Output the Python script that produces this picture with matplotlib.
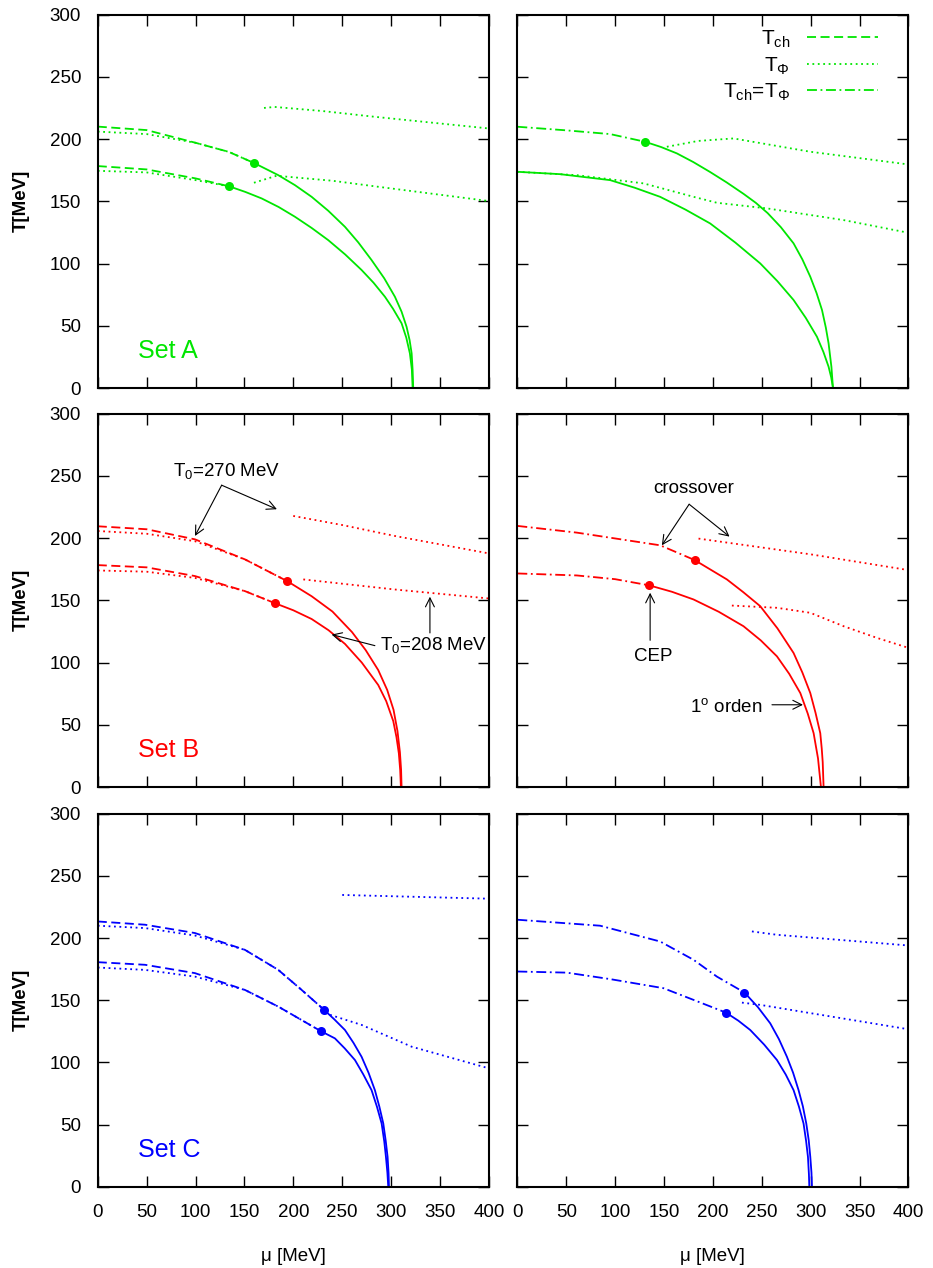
import matplotlib
matplotlib.use("Agg")
import matplotlib.pyplot as plt

plt.rcParams['font.family'] = ['Liberation Sans', 'DejaVu Sans']
plt.rcParams['mathtext.fontset'] = 'custom'
plt.rcParams['mathtext.rm'] = 'Liberation Sans'
plt.rcParams['mathtext.it'] = 'Liberation Sans'
plt.rcParams['mathtext.bf'] = 'Liberation Sans:bold'

GREEN = '#00e600'
RED = '#ff0000'
BLUE = '#0000ff'

# Set A, izquierda
A_L_ch_hi = [(0, 210), (50, 207.2), (100, 197), (134, 189.7), (160, 180.7)]
A_L_phi_hi = [(0, 206), (50, 204), (100, 197), (134, 189.7), (160, 180.7)]
A_L_1st_hi = [(160, 180.7), (184.6, 171), (201.6, 163), (218.7, 153.6), (235.7, 142.4),
              (252.8, 129.5), (266.4, 117), (280, 102.8), (293, 88.1), (303.9, 73.3),
              (310.7, 61.3), (315.8, 49.2), (318.9, 38.5), (321, 27.8), (322, 14.5), (322.6, 0)]
A_L_phi_hi_x = [(170, 225), (181, 225.8), (230, 222.5), (283, 217.9), (400, 208.5)]
A_L_ch_lo = [(0, 178.3), (50, 175.6), (100, 168.4), (134.5, 162)]
A_L_phi_lo = [(0, 174.5), (50, 173.2), (100, 167), (134.5, 162)]
A_L_1st_lo = [(134.5, 162), (151, 157.5), (167.6, 152.3), (185, 145.4), (201.6, 137.6),
              (218.7, 128.6), (235.7, 118.8), (253, 107.3), (269.8, 94.8), (282, 84.6),
              (293.7, 73.3), (302, 63.6), (310.7, 52), (315.5, 40.5), (319.2, 27.8),
              (321.2, 15), (322, 0)]
A_L_phi_lo_x = [(159.7, 164.9), (182.8, 170.5), (240, 166.5), (286.5, 161.7), (400, 150.2)]
A_L_cep = [(160, 180.7), (134.5, 162)]

# Set A, derecha
A_R_eq_hi = [(0, 209.9), (50, 207), (94.9, 204), (130.7, 197.8)]
A_R_1st_hi = [(130.7, 197.8), (147, 193.6), (163.1, 188.5), (180, 181.5), (197.2, 173.5),
              (214, 165.2), (231.3, 156), (244, 148.7), (256, 140.5), (269.5, 129.2),
              (282.5, 116.2), (291.5, 103.3), (299.6, 89.4), (306, 76.3), (311.6, 62.6),
              (315.5, 48.5), (318.3, 35.9), (321.2, 17), (322.8, 0)]
A_R_1st_lo = [(0, 173.7), (43.7, 171.8), (94.9, 167), (120, 160.9), (146, 153.6),
              (172, 143.3), (197.2, 132.2), (223, 116.8), (248.4, 100.1), (266, 85.8),
              (282.5, 70.7), (295, 56.3), (306.4, 41.2), (313, 29), (318.3, 17.1),
              (321, 8.5), (322.8, 0)]
A_R_phi_hi = [(152.9, 193.8), (185, 198.5), (221.1, 200.5), (299.6, 189.8), (400, 179.6)]
A_R_phi_lo = [(0, 173.7), (60.8, 171), (129, 164.4), (180.2, 153.6), (204.1, 148.8),
              (255.3, 144.3), (333.7, 134.9), (400, 124.7)]
A_R_cep = [(130.7, 197.8)]

# Set B, izquierda
B_L_ch_hi = [(0, 209.5), (50, 207.1), (99.4, 199), (150.5, 182.9), (193.8, 165.4)]
B_L_phi_hi = [(0, 205.7), (50, 203.5), (99.4, 197.5), (150.5, 182.9), (193.8, 165.4)]
B_L_1st_hi = [(193.8, 165.4), (218.7, 153.3), (240, 141), (260, 124.5), (274, 110),
              (286.8, 94), (296, 78), (302.5, 62), (306.5, 45), (309, 28), (310.2, 14),
              (310.7, 0)]
B_L_phi_hi_x = [(199.9, 217.8), (250, 210.5), (303.9, 201.7), (400, 187.7)]
B_L_ch_lo = [(0, 178.3), (50, 176.5), (99.4, 169.5), (150.5, 157.4), (181.2, 147.7)]
B_L_phi_lo = [(0, 174), (50, 173), (99.4, 168), (150.5, 157.4), (181.2, 147.7)]
B_L_1st_lo = [(181.2, 147.7), (200, 142), (218.7, 135), (236, 126), (252.8, 115), (270, 100),
              (286.8, 82), (295, 69), (302.2, 53), (305.5, 40), (307.9, 27.1), (309.3, 13.5),
              (310, 0)]
B_L_phi_lo_x = [(210.2, 166.8), (303.9, 158.7), (400, 151.5)]
B_L_cep = [(193.8, 165.4), (181.2, 147.7)]

# Set B, derecha
B_R_eq_hi = [(0, 209.8), (60.8, 204.4), (146.1, 194.2), (181.2, 182.4)]
B_R_1st_hi = [(181.2, 182.4), (214.3, 166.8), (231, 156.6), (248.4, 145.3), (266, 127.5),
              (282.5, 107.7), (291.5, 92), (299.6, 75.5), (305, 59.5), (309.8, 43.3),
              (311.3, 31), (312.3, 20), (313.2, 0)]
B_R_eq_lo = [(0, 171.6), (60.8, 170), (100, 167), (135.1, 162)]
B_R_1st_lo = [(135.1, 162), (158, 156.9), (180.2, 150.7), (206, 140.8), (231.3, 129.2),
              (249, 117.8), (265.5, 105), (278, 91), (289.4, 75.5), (297, 59), (303, 43.3),
              (307.5, 23), (310.5, 0)]
B_R_phi_hi = [(185.3, 199.6), (299.6, 187), (400, 174.3)]
B_R_phi_lo = [(219.4, 145.8), (265.5, 144), (299.6, 140), (333.7, 129.2), (367.9, 119.8),
              (400, 111.8)]
B_R_cep = [(181.2, 182.4), (135.1, 162)]

# Set C, izquierda
C_L_ch_hi = [(0, 213.3), (48.3, 210.7), (99.4, 204), (150.5, 190.5), (184.6, 174.4),
             (208.5, 158.3), (231.6, 142.2)]
C_L_phi_hi = [(0, 209.9), (48.3, 208), (99.4, 202), (150.5, 190.5), (184.6, 174.4),
              (208.5, 158.3), (231.6, 142.2)]
C_L_1st_hi = [(231.6, 142.2), (242, 134.6), (252.8, 126.1), (261.5, 115.8), (269.8, 104.6),
              (277, 91.6), (283.4, 77.8), (288, 64.5), (292, 51), (294.5, 37), (296.4, 24.2),
              (297.4, 11), (297.8, 0)]
C_L_ch_lo = [(0, 180.6), (48.3, 178.5), (99.4, 171.8), (150.5, 158.3), (184.6, 144.9),
             (227.9, 125.3)]
C_L_phi_lo = [(0, 176.3), (48.3, 174.4), (99.4, 169), (150.5, 158.3), (184.6, 144.9),
              (227.9, 125.3)]
C_L_1st_lo = [(227.9, 125.3), (242.5, 119.4), (252.5, 111.4), (263, 102), (271.5, 90.5),
              (280, 77.8), (285.5, 64.5), (290.3, 51), (293, 36.5), (294.7, 24.2),
              (296.2, 11.5), (297.1, 0)]
C_L_phi_hi_x = [(250, 234.6), (400, 231.6)]
C_L_phi_lo_x = [(232.3, 139.6), (269.8, 130.2), (321, 112.7), (400, 95.3)]
C_L_cep = [(231.6, 142.2), (227.9, 125.3)]

# Set C, derecha
C_R_eq_hi = [(0, 214.7), (84.6, 209.9), (146.1, 197.2), (180.2, 182.5), (204.1, 169),
             (232.3, 156.2)]
C_R_1st_hi = [(232.3, 156.2), (246, 144.5), (258.6, 131.5), (267.5, 118.8), (275.7, 104.6),
              (282, 91.8), (287.6, 77.8), (292, 64.8), (295.5, 51), (298, 37.5), (299.6, 24.2),
              (300.8, 11.5), (301.3, 0)]
C_R_eq_lo = [(0, 173.1), (50.5, 172.2), (94.9, 167), (149.4, 159.7), (180.2, 150.3),
             (213.3, 140.1)]
C_R_1st_lo = [(213.3, 140.1), (226, 133.6), (238.2, 126.1), (252.5, 114.3), (265.5, 102),
              (274.5, 90.3), (282.5, 77.8), (288, 64.5), (292.7, 51), (295.3, 37),
              (297.2, 24.2), (298.2, 10), (298.6, 0)]
C_R_phi_hi = [(239.9, 205.3), (265.5, 202.6), (400, 194)]
C_R_phi_lo = [(229.7, 148.1), (248.4, 146.3), (400, 126.7)]
C_R_cep = [(232.3, 156.2), (213.3, 140.1)]

x_ticks = [0, 50, 100, 150, 200, 250, 300, 350, 400]
y_ticks = [0, 50, 100, 150, 200, 250, 300]

LW = 1.3
DASH = (5, 2.5)
DOT = (1, 2)
DASHDOT = (5.5, 2, 1, 2)


def curve(ax, pts, color, dashes=None):
    xs = [p[0] for p in pts]
    ys = [p[1] for p in pts]
    if dashes is None:
        ax.plot(xs, ys, color=color, lw=LW)
    else:
        ax.plot(xs, ys, color=color, lw=LW, dashes=dashes)


def puntos(ax, pts, color):
    ax.plot([p[0] for p in pts], [p[1] for p in pts], 'o', color=color, ms=6.5, mew=0)


fig = plt.figure(figsize=(9.33, 12.68), dpi=100)
x_left = [0.1048, 0.5545]
y_bot = [0.694, 0.3793, 0.0639]
axs = [[fig.add_axes([x_left[c], y_bot[r], 0.4192, 0.2945]) for c in range(2)] for r in range(3)]

for r in range(3):
    for c in range(2):
        ax = axs[r][c]
        ax.set_xlim(0, 400)
        ax.set_ylim(0, 300)
        ax.set_xticks(x_ticks)
        ax.set_yticks(y_ticks)
        ax.tick_params(direction='in', length=8, width=1, top=True, right=True,
                       labelsize=13.5, pad=12)
        for s in ax.spines.values():
            s.set_linewidth(1.5)
        if c == 0:
            ax.set_ylabel('T[MeV]', fontsize=13.5, fontweight='bold', labelpad=14)
        else:
            ax.tick_params(labelleft=False)
        if r < 2:
            ax.tick_params(labelbottom=False)
        else:
            ax.set_xlabel(r'μ [MeV]', fontsize=13.5, labelpad=19.5)

# Set A
ax = axs[0][0]
curve(ax, A_L_ch_hi, GREEN, DASH)
curve(ax, A_L_phi_hi, GREEN, DOT)
curve(ax, A_L_1st_hi, GREEN)
curve(ax, A_L_phi_hi_x, GREEN, DOT)
curve(ax, A_L_ch_lo, GREEN, DASH)
curve(ax, A_L_phi_lo, GREEN, DOT)
curve(ax, A_L_1st_lo, GREEN)
curve(ax, A_L_phi_lo_x, GREEN, DOT)
puntos(ax, A_L_cep, GREEN)
ax.text(41, 30, 'Set A', color=GREEN, fontsize=18, va='center')

ax = axs[0][1]
curve(ax, A_R_eq_hi, GREEN, DASHDOT)
curve(ax, A_R_1st_hi, GREEN)
curve(ax, A_R_1st_lo, GREEN)
curve(ax, A_R_phi_hi, GREEN, DOT)
curve(ax, A_R_phi_lo, GREEN, DOT)
puntos(ax, A_R_cep, GREEN)
h1, = ax.plot([], [], color=GREEN, lw=LW, dashes=DASH)
h2, = ax.plot([], [], color=GREEN, lw=LW, dashes=DOT)
h3, = ax.plot([], [], color=GREEN, lw=LW, dashes=DASHDOT)
ax.legend([h1, h2, h3],
          [r'$\mathregular{T_{ch}}$', r'$\mathregular{T_{\Phi}}$',
           r'$\mathregular{T_{ch}}$=$\mathregular{T_{\Phi}}$'],
          loc='upper right', bbox_to_anchor=(0.921, 0.962), frameon=False,
          markerfirst=False, handlelength=3.4, handletextpad=0.8,
          labelspacing=0.25, borderpad=0, borderaxespad=0, fontsize=15)

# Set B
ax = axs[1][0]
curve(ax, B_L_ch_hi, RED, DASH)
curve(ax, B_L_phi_hi, RED, DOT)
curve(ax, B_L_1st_hi, RED)
curve(ax, B_L_phi_hi_x, RED, DOT)
curve(ax, B_L_ch_lo, RED, DASH)
curve(ax, B_L_phi_lo, RED, DOT)
curve(ax, B_L_1st_lo, RED)
curve(ax, B_L_phi_lo_x, RED, DOT)
puntos(ax, B_L_cep, RED)
ax.text(41, 30, 'Set B', color=RED, fontsize=18, va='center')
flecha = dict(arrowstyle='->', color='k', lw=0.8, mutation_scale=16, shrinkA=0, shrinkB=0)
ax.text(132, 254, r'$\mathregular{T_0}$=270 MeV', fontsize=13.5, ha='center', va='center')
ax.annotate('', xy=(99.4, 201.7), xytext=(126.7, 242.5), arrowprops=flecha)
ax.annotate('', xy=(183.2, 223.2), xytext=(126.7, 242.5), arrowprops=flecha)
ax.text(288.5, 114.4, r'$\mathregular{T_0}$=208 MeV', fontsize=13.5, ha='left', va='center')
ax.annotate('', xy=(239.2, 122.5), xytext=(283.4, 113.6), arrowprops=flecha)
ax.annotate('', xy=(339.7, 152.9), xytext=(339.7, 123.8), arrowprops=flecha)

ax = axs[1][1]
curve(ax, B_R_eq_hi, RED, DASHDOT)
curve(ax, B_R_1st_hi, RED)
curve(ax, B_R_eq_lo, RED, DASHDOT)
curve(ax, B_R_1st_lo, RED)
curve(ax, B_R_phi_hi, RED, DOT)
curve(ax, B_R_phi_lo, RED, DOT)
puntos(ax, B_R_cep, RED)
ax.text(180.1, 239.9, 'crossover', fontsize=13.5, ha='center', va='center')
ax.annotate('', xy=(147.8, 194.2), xytext=(175.7, 227.2), arrowprops=flecha)
ax.annotate('', xy=(217, 201.2), xytext=(175.7, 227.2), arrowprops=flecha)
ax.text(139.2, 105, 'CEP', fontsize=13.5, ha='center', va='center')
ax.annotate('', xy=(135.8, 156.1), xytext=(135.8, 117.9), arrowprops=flecha)
ax.text(176.8, 64.7, r'1$^{\mathregular{o}}$ orden', fontsize=13.5, ha='left', va='center')
ax.annotate('', xy=(292.1, 66.1), xytext=(260.4, 66.1), arrowprops=flecha)

# Set C
ax = axs[2][0]
curve(ax, C_L_ch_hi, BLUE, DASH)
curve(ax, C_L_phi_hi, BLUE, DOT)
curve(ax, C_L_1st_hi, BLUE)
curve(ax, C_L_ch_lo, BLUE, DASH)
curve(ax, C_L_phi_lo, BLUE, DOT)
curve(ax, C_L_1st_lo, BLUE)
curve(ax, C_L_phi_hi_x, BLUE, DOT)
curve(ax, C_L_phi_lo_x, BLUE, DOT)
puntos(ax, C_L_cep, BLUE)
ax.text(41, 30, 'Set C', color=BLUE, fontsize=18, va='center')

ax = axs[2][1]
curve(ax, C_R_eq_hi, BLUE, DASHDOT)
curve(ax, C_R_1st_hi, BLUE)
curve(ax, C_R_eq_lo, BLUE, DASHDOT)
curve(ax, C_R_1st_lo, BLUE)
curve(ax, C_R_phi_hi, BLUE, DOT)
curve(ax, C_R_phi_lo, BLUE, DOT)
puntos(ax, C_R_cep, BLUE)

plt.savefig('out.png', dpi=100)
